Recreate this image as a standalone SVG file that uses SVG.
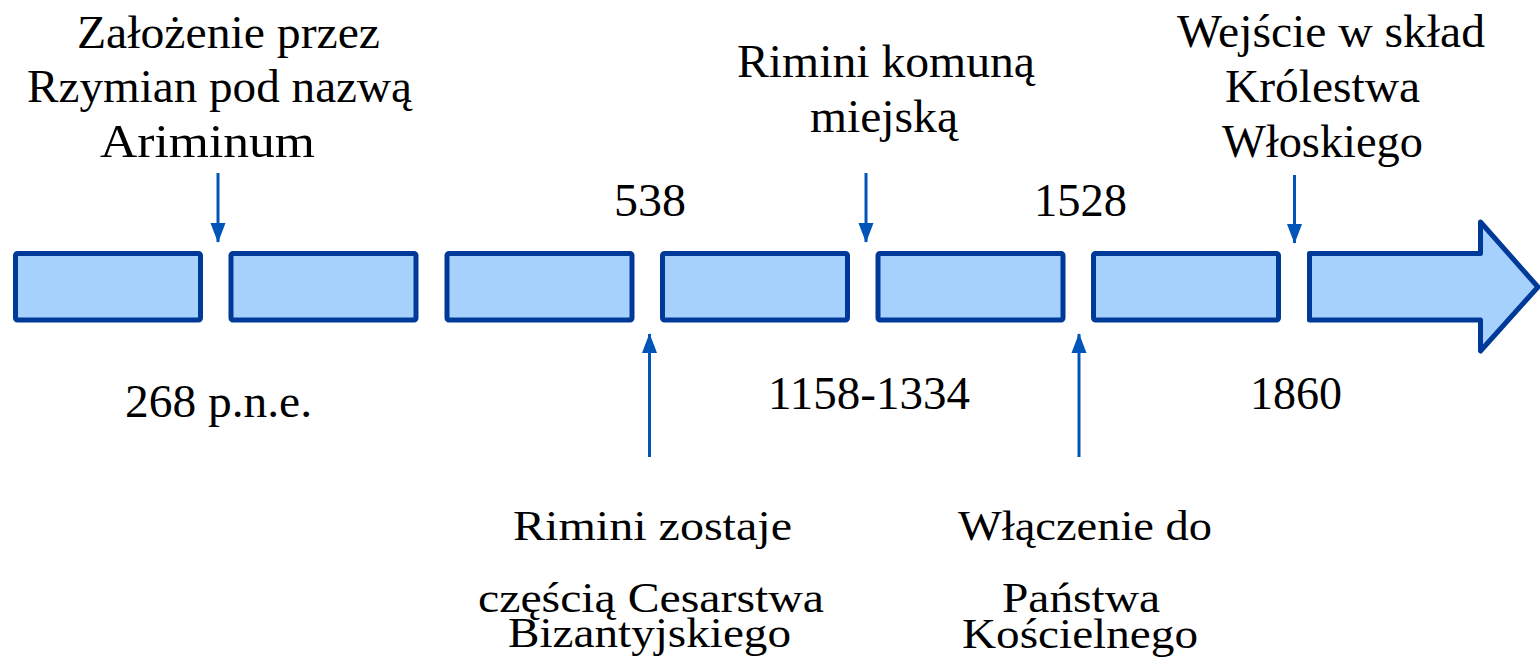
<svg xmlns="http://www.w3.org/2000/svg" width="1540" height="664" viewBox="0 0 1540 664">
<defs>
<style>
.box{fill:#a6d1fc;stroke:#003a99;stroke-width:5;stroke-linejoin:round}
.t{font-family:"Liberation Serif","Times New Roman",serif;fill:#000;font-size:47px}
.b{font-size:43px}
.c{stroke:#0056b8;stroke-width:3;fill:none}
</style>
<marker id="ah" markerUnits="userSpaceOnUse" markerWidth="20" markerHeight="26" refX="24" refY="9.5" orient="auto" viewBox="0 0 25 19">
<path d="M0,0 L25,9.5 L0,19 Z" fill="#0056b8"/>
</marker>
</defs>
<g id="timeline">
<rect id="seg1" class="box" x="15.5" y="253.5" width="185" height="66.5" rx="2"/>
<rect id="seg2" class="box" x="231" y="253.5" width="185" height="66.5" rx="2"/>
<rect id="seg3" class="box" x="447" y="253.5" width="185" height="66.5" rx="2"/>
<rect id="seg4" class="box" x="662.5" y="253.5" width="185" height="66.5" rx="2"/>
<rect id="seg5" class="box" x="878" y="253.5" width="185" height="66.5" rx="2"/>
<rect id="seg6" class="box" x="1093.5" y="253.5" width="185" height="66.5" rx="2"/>
<polygon id="seg7" class="box" points="1309.5,253.5 1480.5,253.5 1480.5,222 1538,287 1480.5,351 1480.5,320 1309.5,320"/>
</g>
<g id="connectors">
<line class="c" x1="218" y1="173" x2="218" y2="242" marker-end="url(#ah)"/>
<line class="c" x1="866" y1="173" x2="866" y2="242" marker-end="url(#ah)"/>
<line class="c" x1="1294.5" y1="175" x2="1294.5" y2="243" marker-end="url(#ah)"/>
<line class="c" x1="649.5" y1="457" x2="649.5" y2="334" marker-end="url(#ah)"/>
<line class="c" x1="1079" y1="457" x2="1079" y2="334" marker-end="url(#ah)"/>
</g>
<g id="label-268">
<text class="t" x="77" y="48" textLength="303" lengthAdjust="spacingAndGlyphs">Założenie przez</text>
<text class="t" x="27" y="102" textLength="385" lengthAdjust="spacingAndGlyphs">Rzymian pod nazwą</text>
<text class="t" x="100" y="157" textLength="215" lengthAdjust="spacingAndGlyphs">Ariminum</text>
<text class="t" x="125" y="417" textLength="187" lengthAdjust="spacingAndGlyphs">268 p.n.e.</text>
</g>
<g id="label-538">
<text class="t" x="614" y="216" textLength="72" lengthAdjust="spacingAndGlyphs">538</text>
<text class="t b" x="513" y="540" textLength="279" lengthAdjust="spacingAndGlyphs">Rimini zostaje</text>
<text class="t b" x="478" y="612" textLength="346" lengthAdjust="spacingAndGlyphs">częścią Cesarstwa</text>
<text class="t b" x="508" y="647" textLength="283" lengthAdjust="spacingAndGlyphs">Bizantyjskiego</text>
</g>
<g id="label-1158">
<text class="t" x="737" y="77" textLength="298" lengthAdjust="spacingAndGlyphs">Rimini komuną</text>
<text class="t" x="810" y="132" textLength="148" lengthAdjust="spacingAndGlyphs">miejską</text>
<text class="t" x="768" y="409" textLength="202" lengthAdjust="spacingAndGlyphs">1158-1334</text>
</g>
<g id="label-1528">
<text class="t" x="1034" y="216" textLength="93" lengthAdjust="spacingAndGlyphs">1528</text>
<text class="t b" x="958" y="540" textLength="254" lengthAdjust="spacingAndGlyphs">Włączenie do</text>
<text class="t b" x="1002" y="612" textLength="158" lengthAdjust="spacingAndGlyphs">Państwa</text>
<text class="t b" x="962" y="648" textLength="236" lengthAdjust="spacingAndGlyphs">Kościelnego</text>
</g>
<g id="label-1860">
<text class="t" x="1177" y="47" textLength="308" lengthAdjust="spacingAndGlyphs">Wejście w skład</text>
<text class="t" x="1225" y="102" textLength="195" lengthAdjust="spacingAndGlyphs">Królestwa</text>
<text class="t" x="1222" y="157" textLength="201" lengthAdjust="spacingAndGlyphs">Włoskiego</text>
<text class="t" x="1250" y="409" textLength="92" lengthAdjust="spacingAndGlyphs">1860</text>
</g>
</svg>
